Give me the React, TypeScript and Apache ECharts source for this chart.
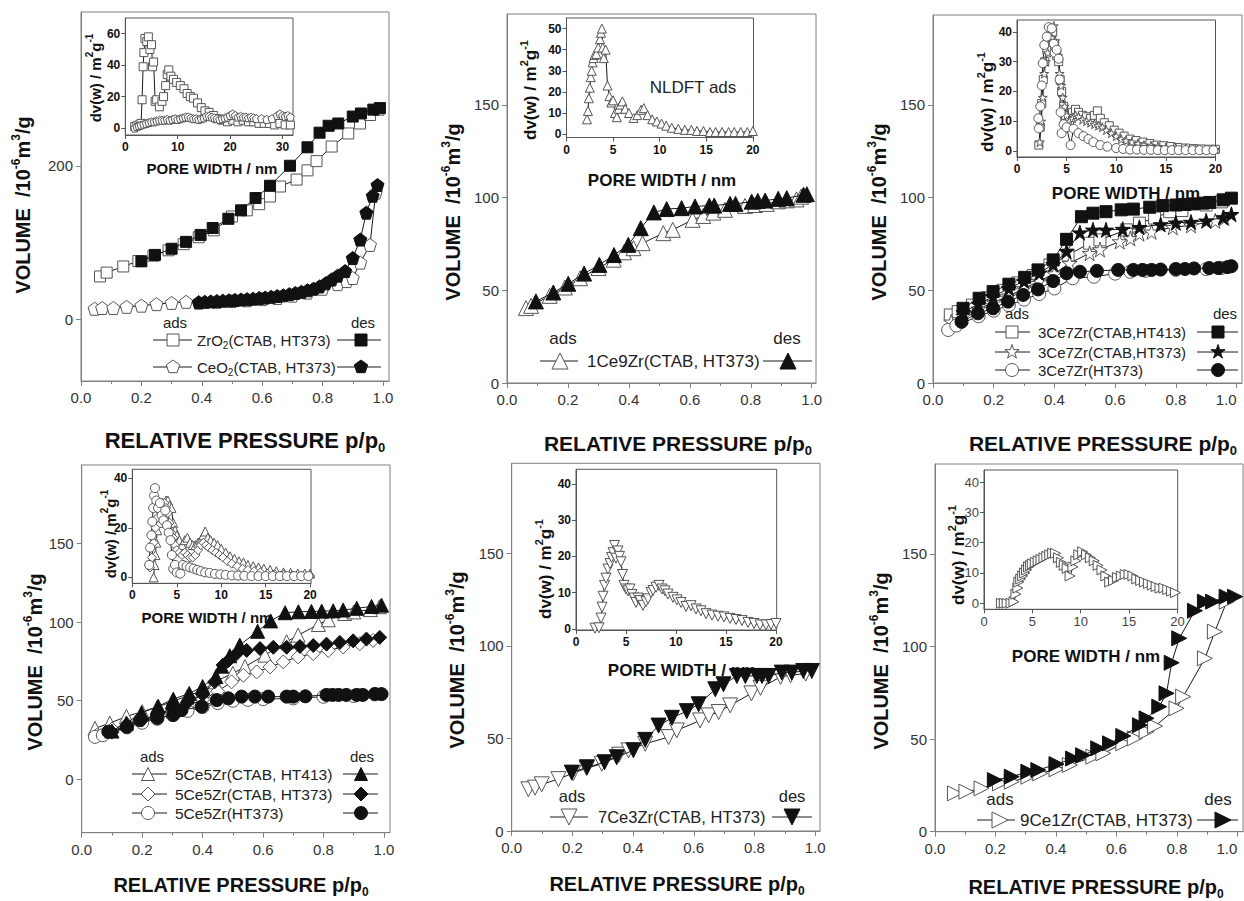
import React, { useEffect, useRef } from 'react';
import * as echarts from 'echarts';

type Pt = [number, number];

// ---------------- DATA ----------------
// Panel 1 : ZrO2 / CeO2
const zro2Ads: Pt[] = [[0.063,56],[0.085,61],[0.14,69],[0.19,76],[0.24,83],[0.29,90],[0.34,98],[0.39,107],[0.44,116],[0.5,134],[0.549,142],[0.59,150],[0.626,160],[0.659,173],[0.714,182],[0.75,194],[0.78,206],[0.83,225],[0.885,242],[0.924,255],[0.957,266],[0.985,273]];
const zro2Des: Pt[] = [[0.2,75.7],[0.245,84],[0.3,92],[0.348,101],[0.396,110],[0.436,119],[0.488,131],[0.53,142],[0.578,158],[0.626,174],[0.692,200],[0.75,224],[0.79,243],[0.82,252],[0.852,255],[0.9,264],[0.927,268],[0.968,273],[0.99,275]];
const ceo2Ads: Pt[] = [[0.045,14],[0.07,15],[0.107,15],[0.151,16.5],[0.2,18],[0.25,20],[0.3,21.6],[0.348,23],[0.39,22],[0.45,23],[0.5,24],[0.55,25],[0.6,26.5],[0.65,28],[0.7,31],[0.75,35],[0.8,40],[0.85,46],[0.88,50],[0.9,54],[0.925,74],[0.957,97],[0.976,165]];
const ceo2Des: Pt[] = [[0.39,22.5],[0.41,23],[0.43,23.5],[0.45,24],[0.47,24.5],[0.49,25],[0.51,25.5],[0.53,26],[0.55,26.5],[0.57,27],[0.59,28],[0.61,28.5],[0.63,29.5],[0.65,30.5],[0.67,31.5],[0.69,33],[0.71,34.5],[0.73,36],[0.75,38],[0.77,40],[0.79,43],[0.81,47],[0.83,52],[0.85,57],[0.875,63],[0.9,80],[0.925,104],[0.945,139],[0.966,161],[0.982,175]];
const zro2Psd: Pt[] = [[1.8,1],[2.2,1.5],[2.6,2],[3.0,3],[3.2,18],[3.4,39],[3.55,48],[3.75,57],[4.1,55],[4.4,58],[4.7,50],[5.0,53],[5.2,39],[5.4,42],[5.7,17],[6.0,18],[6.5,13.5],[7.0,17],[7.3,20],[7.7,27],[8.0,34],[8.3,37],[8.7,33],[9.2,31],[9.8,29],[10.5,27],[11.2,25],[11.8,22],[12.4,20],[13.0,19],[13.8,16],[14.5,13],[15.2,11],[16.0,10],[16.8,8],[17.5,6],[18.5,5],[19.5,4],[20.5,5],[21.5,4],[22.5,5],[23.5,4],[24.5,4],[25.5,3],[26.5,3],[27.5,3],[28.5,2],[29.5,3],[30.5,2],[31.5,2]];
const ceo2Psd: Pt[] = [[1.8,0],[2.2,1],[2.6,1.5],[3.0,2],[3.5,2.5],[4.0,3],[4.5,3.5],[5.0,4],[5.5,4],[6.0,4.5],[6.5,5],[7.0,5],[7.5,5],[8.0,5.5],[8.5,5],[9.0,5.5],[9.5,6],[10,5.5],[10.5,6],[11,6.5],[11.5,7],[12,7],[12.5,6.5],[13,6],[13.5,6],[14,5.5],[14.5,6],[15,6.5],[15.5,7.5],[16,7.5],[16.5,7],[17,6.5],[17.5,6],[18,5.5],[18.5,6],[19,6.5],[19.5,7],[20,8],[20.5,9],[21,8],[21.5,7],[22,7.5],[22.5,7],[23,7],[23.5,6.5],[24,7],[24.5,6.5],[25,6],[26,6],[27,5.5],[28,6],[29,8],[29.5,9],[30,8],[30.5,7.5],[31,8],[31.5,7]];

// Panel 2 : 1Ce9Zr
const ce1Ads: Pt[] = [[0.062,40.4],[0.079,41.6],[0.14,47],[0.19,51.5],[0.24,56.5],[0.3,62],[0.35,66.5],[0.384,70.5],[0.415,72.7],[0.445,75.4],[0.513,80.8],[0.544,82.6],[0.609,88],[0.644,90.1],[0.677,91.9],[0.715,93.4],[0.781,95.5],[0.814,96],[0.852,96.6],[0.89,98],[0.918,98.5],[0.95,99],[0.965,100.5]];
const ce1Des: Pt[] = [[0.095,44],[0.152,48.8],[0.201,53.5],[0.253,59],[0.303,63.7],[0.351,69],[0.398,74.5],[0.439,83.5],[0.482,92],[0.524,93.8],[0.573,94.3],[0.617,95.2],[0.664,95.7],[0.68,95.7],[0.732,96.6],[0.75,96.6],[0.803,97.8],[0.823,98.2],[0.847,98.4],[0.89,99.3],[0.918,99.7],[0.973,101.5],[0.984,101.8]];
const ce1Psd: Pt[] = [[2.2,7],[2.3,11],[2.4,17],[2.5,22],[2.6,27],[2.7,30],[2.8,34],[2.9,36],[3.0,37.5],[3.2,38],[3.4,41],[3.6,45],[3.7,48],[3.8,50],[3.9,41],[4.0,36],[4.2,40],[4.4,23],[4.6,18],[4.8,15],[5.0,16],[5.2,10],[5.4,8],[5.6,12],[5.8,14],[6.0,15.5],[6.3,12],[6.7,10],[7.2,7.6],[7.6,9],[8.0,11.5],[8.3,12.3],[8.7,9],[9.2,7],[9.7,6],[10.2,5],[10.7,4],[11.3,3],[12,2.5],[12.7,2],[13.4,2],[14,1.5],[14.7,1.5],[15.4,1],[16,1],[16.7,1],[17.4,1],[18,1],[18.7,1],[19.4,1],[20,1.5]];

// Panel 3 : 3Ce7Zr
const c3qAds: Pt[] = [[0.057,36.7],[0.083,38.5],[0.13,42],[0.18,46],[0.23,50],[0.28,54],[0.33,58],[0.385,63.7],[0.445,69],[0.516,75.4],[0.55,77.2],[0.637,82.6],[0.68,86.2],[0.73,89],[0.78,92.4],[0.82,93],[0.9,96],[0.95,97.7]];
const c3qDes: Pt[] = [[0.099,40.3],[0.152,45.7],[0.198,49.3],[0.25,53.3],[0.302,57],[0.346,61],[0.396,66.4],[0.44,77.5],[0.489,89.7],[0.527,91.6],[0.57,92.4],[0.62,93.4],[0.66,93.8],[0.714,94.8],[0.757,95.7],[0.8,96],[0.83,96.3],[0.857,96.6],[0.89,97],[0.912,97.4],[0.956,98.8],[0.983,99.7]];
const c3sAds: Pt[] = [[0.06,33],[0.1,36],[0.15,40],[0.2,43.5],[0.25,47],[0.3,51],[0.35,55],[0.4,59],[0.45,64.6],[0.516,70],[0.55,72],[0.615,76.3],[0.65,78],[0.68,80.5],[0.72,81.5],[0.79,84],[0.85,85],[0.93,87.5],[0.96,89]];
const c3sDes: Pt[] = [[0.1,38],[0.15,42.6],[0.198,46.5],[0.25,51],[0.3,55],[0.35,59.2],[0.396,64],[0.44,71],[0.484,81.1],[0.527,82.6],[0.57,82.6],[0.625,83],[0.68,84],[0.75,85.5],[0.8,86.4],[0.85,86.8],[0.9,87.5],[0.956,89.3],[0.983,91]];
const c3cAds: Pt[] = [[0.05,28.6],[0.077,31],[0.15,36],[0.2,39],[0.25,42],[0.3,45],[0.35,48],[0.4,51],[0.46,56.5],[0.53,57.3],[0.6,59],[0.65,60],[0.7,60.5],[0.8,61],[0.9,61.5],[0.95,62]];
const c3cDes: Pt[] = [[0.094,33],[0.148,37.6],[0.198,40.3],[0.247,43.9],[0.297,47.5],[0.346,50.5],[0.396,55],[0.44,59.2],[0.484,60],[0.54,60.5],[0.61,61],[0.66,61],[0.69,61],[0.72,61],[0.75,61.2],[0.8,61.5],[0.83,61.5],[0.86,61.8],[0.91,62],[0.94,62],[0.97,62.5],[0.983,63]];
const c3qPsd: Pt[] = [[2.2,2],[2.35,8],[2.5,16],[2.65,24],[2.8,30],[3.0,34],[3.2,38],[3.4,39],[3.6,40],[3.8,36],[4.0,32],[4.2,30],[4.35,24],[4.5,20],[4.7,15],[4.9,12],[5.1,9],[5.3,10],[5.6,13],[5.9,14],[6.2,13],[6.6,12],[7.0,11.5],[7.4,11],[7.8,12],[8.1,13.5],[8.4,11],[8.8,9.5],[9.3,8.5],[9.8,7],[10.3,6],[10.8,5],[11.4,4],[12,3.5],[12.7,3],[13.4,2.5],[14.1,2],[14.8,1.8],[15.5,1.5],[16.2,1.2],[17,1],[17.8,0.8],[18.6,0.7],[19.4,0.6],[20,0.6]];
const c3sPsd: Pt[] = [[2.3,3],[2.45,10],[2.6,18],[2.75,26],[2.9,30],[3.1,33],[3.3,36],[3.5,38],[3.7,42],[3.85,37],[4.0,33],[4.15,32],[4.3,26],[4.45,22],[4.6,18],[4.8,15],[5.0,12],[5.3,10],[5.6,11],[5.9,12],[6.2,11.5],[6.6,10.5],[7.0,10],[7.4,9.5],[7.8,9],[8.2,8.5],[8.6,8],[9.0,7],[9.5,6],[10,5],[10.5,4],[11,3.5],[11.6,3],[12.2,2.5],[12.8,2],[13.5,1.8],[14.2,1.5],[15,1.2],[16,1],[17,0.8],[18,0.6],[19,0.5],[20,0.5]];
const c3cPsd: Pt[] = [[2.15,11],[2.2,7.6],[2.35,15],[2.5,22],[2.6,29.5],[2.75,35.6],[3.0,38.4],[3.2,41.6],[3.5,41.2],[3.7,36],[3.8,33],[4.0,34],[4.2,31],[4.3,24],[4.4,13],[4.5,6],[4.7,9],[5.0,8],[5.4,2],[5.7,7.5],[6.2,6],[6.7,5],[7.2,4],[7.7,3],[8.4,2],[9.1,1.5],[10,1],[10.7,0.7],[11.4,0.5],[12.1,0.5],[12.8,0.4],[13.5,0.4],[14.2,0.3],[14.9,0.3],[15.6,0.3],[16.3,0.3],[17,0.3],[17.7,0.3],[18.4,0.3],[19.1,0.3],[19.8,0.3]];

// Panel 4 : 5Ce5Zr
const c5tAds: Pt[] = [[0.044,32.4],[0.093,35.7],[0.148,40],[0.2,43],[0.25,46],[0.3,49.5],[0.35,53],[0.4,56.5],[0.44,62],[0.5,67.4],[0.54,71.6],[0.606,79],[0.678,87.5],[0.716,91.7],[0.783,98.5],[0.816,101.5],[0.87,105.5],[0.9,106.5],[0.955,108],[0.985,109.8]];
const c5tDes: Pt[] = [[0.1,30.7],[0.148,35.8],[0.198,42.2],[0.253,46.5],[0.303,51],[0.356,54.6],[0.4,59],[0.444,65.3],[0.463,72],[0.49,78.6],[0.523,85.4],[0.582,94.2],[0.625,100.8],[0.673,106],[0.717,106.6],[0.76,106.8],[0.794,107],[0.832,107.2],[0.865,107.7],[0.91,108.8],[0.959,110],[0.992,110.8]];
const c5dAds: Pt[] = [[0.05,28],[0.1,32],[0.15,35],[0.2,38],[0.25,41],[0.3,44],[0.35,47],[0.4,50.5],[0.45,56],[0.496,62],[0.535,66.2],[0.579,68.3],[0.623,71.5],[0.667,74.7],[0.716,77.9],[0.766,80],[0.816,82],[0.865,84.2],[0.92,86.3],[0.964,88.4]];
const c5dDes: Pt[] = [[0.1,30],[0.15,34],[0.2,38],[0.25,41],[0.3,45],[0.35,49],[0.4,54],[0.44,62],[0.468,72.7],[0.485,75.5],[0.513,80],[0.546,82],[0.59,83.2],[0.634,84],[0.678,84],[0.722,84.5],[0.766,85.1],[0.81,86],[0.854,87.1],[0.898,88.1],[0.942,89.2],[0.986,90.3]];
const c5cAds: Pt[] = [[0.044,27],[0.07,28],[0.15,33],[0.2,36],[0.25,38.5],[0.3,41],[0.35,43.5],[0.4,46],[0.45,48.5],[0.5,50],[0.55,50.5],[0.6,51],[0.7,51.5],[0.8,52.5],[0.9,53],[0.97,54]];
const c5cDes: Pt[] = [[0.088,30.3],[0.149,33.4],[0.193,37.6],[0.25,39],[0.303,40.9],[0.33,44],[0.397,46.2],[0.447,50.4],[0.485,51.5],[0.529,52.6],[0.573,52.6],[0.617,52.6],[0.678,52.6],[0.7,52.6],[0.74,52.8],[0.81,53.7],[0.83,53.7],[0.85,53.7],[0.875,53.7],[0.91,53.7],[0.93,53.7],[0.97,54.3],[0.992,54.2]];
const c5tPsd: Pt[] = [[2.4,0],[2.5,5],[2.6,9],[2.7,14],[2.8,19],[3.0,22],[3.2,25],[3.4,27],[3.6,30],[3.8,31],[4.0,31],[4.2,29],[4.4,28],[4.6,22],[4.8,19],[5.0,17],[5.3,15],[5.6,13],[5.9,15],[6.2,16],[6.5,14],[6.8,13],[7.1,13],[7.4,14],[7.7,15],[8.0,17],[8.2,18.5],[8.5,16],[8.8,15],[9.2,14],[9.6,13],[10,11.5],[10.5,10],[11,8.5],[11.5,7.5],[12,6.5],[12.5,6],[13,5],[13.6,4.5],[14.2,4],[14.8,3.5],[15.5,3],[16.2,2.5],[17,2],[17.8,1.8],[18.6,1.5],[19.4,1.5],[20,1.5]];
const c5dPsd: Pt[] = [[2.0,4],[2.2,8],[2.4,14],[2.6,20],[2.8,24],[3.0,27],[3.2,29],[3.4,30],[3.6,30],[3.8,28],[4.0,26],[4.2,22],[4.4,18],[4.6,16],[4.8,13],[5.0,11],[5.3,10],[5.6,9],[5.9,10],[6.2,9],[6.5,8],[6.8,8],[7.1,9],[7.4,11],[7.7,13],[8.0,14],[8.3,13],[8.6,12],[9.0,11],[9.4,10],[9.8,9],[10.2,8],[10.7,6.5],[11.2,5.5],[11.8,4.5],[12.4,3.5],[13,3],[13.7,2.5],[14.4,2],[15.2,1.5],[16,1.2],[17,1],[18,0.8],[19,0.7],[20,0.6]];
const c5cPsd: Pt[] = [[1.9,5],[2.0,12],[2.15,17],[2.25,22.5],[2.35,28],[2.45,33],[2.55,36],[2.7,31],[2.9,28],[3.1,30],[3.3,25],[3.5,23],[3.7,27],[3.9,21],[4.1,18],[4.3,15],[4.45,9],[4.6,3.5],[4.8,5],[5.0,2],[5.4,1.5],[5.7,5],[6.1,4.5],[6.5,4],[6.9,3.5],[7.3,3],[7.7,2.5],[8.2,2],[8.7,1.8],[9.3,1.4],[9.9,1.2],[10.5,1],[11.2,0.8],[11.9,0.7],[12.6,0.6],[13.4,0.5],[14.2,0.5],[15,0.5],[15.8,0.5],[16.6,0.5],[17.4,0.5],[18.2,0.5],[19,0.5],[19.8,0.5]];

// Panel 5 : 7Ce3Zr
const ce7Ads: Pt[] = [[0.055,22.5],[0.077,23.4],[0.099,25.2],[0.154,28],[0.203,31.3],[0.247,33.9],[0.297,36.3],[0.354,41.2],[0.385,43.5],[0.44,47.1],[0.517,50.7],[0.544,54.3],[0.621,59.7],[0.649,62.4],[0.682,64.2],[0.72,67.8],[0.79,74.3],[0.82,77.3],[0.886,83.2],[0.919,84.1],[0.969,85]];
const ce7Des: Pt[] = [[0.198,31.5],[0.248,34.4],[0.306,37.1],[0.346,39.8],[0.401,43.6],[0.44,49.2],[0.484,56.9],[0.528,61.1],[0.577,64.7],[0.616,68.4],[0.671,76.5],[0.698,79.2],[0.742,83.7],[0.77,83.7],[0.808,83.7],[0.825,83.7],[0.847,83.7],[0.89,85.5],[0.923,85.5],[0.961,86.4],[0.989,86.4]];
const ce7Psd: Pt[] = [[1.9,0.2],[2.3,0.3],[2.5,3],[2.6,6],[2.7,9],[2.85,12],[3.0,14],[3.2,16.5],[3.4,18],[3.55,19.7],[3.7,21],[3.85,23],[4.0,19.5],[4.2,21.5],[4.35,20],[4.5,18.5],[4.65,15],[4.8,12],[5.0,11],[5.2,10.5],[5.4,11],[5.6,9.5],[5.8,8.5],[6.0,7.3],[6.2,8.5],[6.4,7.8],[6.7,6.5],[7.0,7.5],[7.2,8.3],[7.5,10],[7.7,10.6],[8.0,11.5],[8.3,12],[8.6,11],[8.9,10.5],[9.2,9.6],[9.7,8.7],[10.1,8],[10.5,7.3],[11.0,6.2],[11.5,6.4],[12.0,5.5],[12.5,5],[13.0,4.2],[13.6,3.8],[14.2,3.5],[14.8,3.3],[15.4,2.9],[16.0,2.6],[16.6,2.3],[17.2,1.8],[17.8,1.5],[18.4,1.1],[19.0,1.1],[19.5,1.2],[20.0,1.5]];

// Panel 6 : 9Ce1Zr
const ce9Ads: Pt[] = [[0.066,20.7],[0.104,21.6],[0.154,23.4],[0.215,26.1],[0.254,27],[0.309,29.7],[0.348,31.5],[0.402,33.7],[0.446,36],[0.524,40.5],[0.557,42.3],[0.623,47.7],[0.661,50.4],[0.7,54],[0.728,57],[0.799,66.6],[0.821,72.9],[0.893,93.6],[0.926,108],[0.965,124.2]];
const ce9Des: Pt[] = [[0.198,27.9],[0.254,29.7],[0.309,32.4],[0.342,33.3],[0.402,36.5],[0.457,39.5],[0.49,41.3],[0.54,45],[0.579,47.7],[0.623,51.7],[0.678,57.5],[0.7,61.2],[0.742,67.5],[0.766,74.7],[0.783,91.2],[0.808,104.4],[0.86,119.3],[0.893,124.2],[0.92,124.2],[0.965,126.9],[0.993,126.9]];
const ce9Psd: Pt[] = [[1.8,0],[2.1,0],[2.4,0],[2.8,0],[3.1,0.5],[3.3,3],[3.5,5],[3.6,7],[3.8,8],[4.0,9],[4.2,10],[4.4,11],[4.6,12],[4.8,12.5],[5.0,13],[5.3,13.5],[5.6,14],[5.9,14.5],[6.2,15],[6.5,15.5],[6.8,16],[7.1,16.5],[7.4,16.5],[7.7,15],[8.0,13.5],[8.3,12.5],[8.6,11.5],[8.9,9],[9.2,12],[9.5,14],[9.8,16],[10.2,17],[10.6,16],[11.0,15],[11.4,14],[11.8,12.5],[12.2,11],[12.6,9],[13.0,7],[13.4,7.5],[13.8,8.5],[14.2,9],[14.6,9.5],[15.0,9.5],[15.4,9],[15.8,8],[16.2,7.5],[16.6,7],[17.0,6.5],[17.4,6],[17.8,5.5],[18.2,5],[18.6,5],[19.0,4.5],[19.4,4],[19.8,3.5]];

// Tick values
const mainXTicks = [0, 0.2, 0.4, 0.6, 0.8, 1.0];
const mainXMinor = [0.1, 0.3, 0.5, 0.7, 0.9];
const mainYTicksP1 = [0, 200];
const mainYTicks = [0, 50, 100, 150];
const insetXTicksP1 = [0, 10, 20, 30];
const insetXTicks = [0, 5, 10, 15, 20];
const insetYTicksP1 = [0, 20, 40, 60];
const insetYTicksP2 = [0, 10, 20, 30, 40, 50];
const insetYTicks40 = [0, 10, 20, 30, 40];
const insetYTicksP4 = [0, 20, 40];

// ---------------- STYLE / LAYOUT ----------------
const FONT = '"Liberation Sans", Arial, Helvetica, sans-serif';
const OPEN_STROKE = '#555';
const DARK = '#111';
const LINE = '#1a1a1a';

const SYM: Record<string, string> = {
  square: 'rect',
  tri: 'triangle',
  down: 'path://M0,0L20,0L10,17.3Z',
  right: 'path://M0,0L17.3,10L0,20Z',
  diamond: 'diamond',
  circle: 'circle',
  pent: 'path://M10,0L19.51,6.91L15.88,18.09L4.12,18.09L0.49,6.91Z',
  star: 'path://M10,0L12.245,6.91L19.511,6.91L13.633,11.18L15.878,18.09L10,13.82L4.122,18.09L6.367,11.18L0.489,6.91L7.755,6.91Z',
};

const POLY: Record<string, number[][]> = {
  tri: [[0, -1], [1, 1], [-1, 1]],
  down: [[-1, -1], [1, -1], [0, 1]],
  right: [[-1, -1], [1, 0], [-1, 1]],
  diamond: [[0, -1], [1, 0], [0, 1], [-1, 0]],
  pent: [[0, -1], [0.951, -0.309], [0.588, 0.809], [-0.588, 0.809], [-0.951, -0.309]],
  star: [[0, -1], [0.2245, -0.309], [0.9511, -0.309], [0.3633, 0.118], [0.5878, 0.809], [0, 0.382], [-0.5878, 0.809], [-0.3633, 0.118], [-0.9511, -0.309], [-0.2245, -0.309]],
};

interface Box { left: number; top: number; width: number; height: number; xMax: number; yMin: number; yMax: number; xTicks: number[]; yTicks: number[]; }

const panels: { main: Box; inset: Box; insetBold: boolean; edgeRight?: boolean }[] = [
  { main: { left: 81, top: 12, width: 308, height: 369, xMax: 1.02, yMin: -80, yMax: 400, xTicks: mainXTicks, yTicks: mainYTicksP1 },
    inset: { left: 125.3, top: 18, width: 167.7, height: 117, xMax: 32, yMin: -4.4, yMax: 70, xTicks: insetXTicksP1, yTicks: insetYTicksP1 }, insetBold: true },
  { main: { left: 507, top: 14, width: 309, height: 369, xMax: 1.014, yMin: 0, yMax: 199, xTicks: mainXTicks, yTicks: mainYTicks },
    inset: { left: 566.5, top: 18, width: 187, height: 119.5, xMax: 20.07, yMin: -1.6, yMax: 55, xTicks: insetXTicks, yTicks: insetYTicksP2 }, insetBold: true },
  { main: { left: 933, top: 15, width: 309, height: 368, xMax: 1.018, yMin: 0, yMax: 198.5, xTicks: mainXTicks, yTicks: mainYTicks },
    inset: { left: 1017, top: 20, width: 198.5, height: 137, xMax: 20.01, yMin: -2, yMax: 44, xTicks: insetXTicks, yTicks: insetYTicks40 }, insetBold: true, edgeRight: true },
  { main: { left: 81.7, top: 465, width: 308.3, height: 367.7, xMax: 1.02, yMin: -34, yMax: 200, xTicks: mainXTicks, yTicks: mainYTicks },
    inset: { left: 132.3, top: 469.3, width: 178.7, height: 114, xMax: 20.1, yMin: -2.4, yMax: 43.6, xTicks: insetXTicks, yTicks: insetYTicksP4 }, insetBold: true },
  { main: { left: 511.7, top: 463.3, width: 308.3, height: 367.7, xMax: 1.016, yMin: 0, yMax: 198.5, xTicks: mainXTicks, yTicks: mainYTicks },
    inset: { left: 576, top: 469.3, width: 200.7, height: 160.7, xMax: 20.07, yMin: -0.3, yMax: 44, xTicks: insetXTicks, yTicks: insetYTicks40 }, insetBold: true },
  { main: { left: 935, top: 464, width: 308, height: 367.7, xMax: 1.019, yMin: 0, yMax: 198.5, xTicks: mainXTicks, yTicks: mainYTicks },
    inset: { left: 984, top: 470, width: 193.7, height: 139.3, xMax: 20.03, yMin: -2, yMax: 44, xTicks: insetXTicks, yTicks: insetYTicks40 }, insetBold: false, edgeRight: true },
];

function ser(idx: number, data: Pt[], shape: string, size: number, filled: boolean) {
  return {
    type: 'line', xAxisIndex: idx, yAxisIndex: idx, data,
    symbol: SYM[shape], symbolSize: size, showSymbol: true, showAllSymbol: true,
    lineStyle: { color: LINE, width: 1 },
    itemStyle: { color: filled ? DARK : '#fff', borderColor: filled ? DARK : OPEN_STROKE, borderWidth: 1 },
    emphasis: { disabled: true }, silent: true, z: filled ? 4 : 3,
  };
}

function buildAxes() {
  const grid: any[] = [];
  const xAxis: any[] = [];
  const yAxis: any[] = [];
  panels.forEach((p) => {
    [p.main, p.inset].forEach((b, k) => {
      const isMain = k === 0;
      const gi = grid.length;
      const axisCol = isMain ? '#808080' : '#555';
      grid.push({ left: b.left, top: b.top, width: b.width, height: b.height, show: true, borderColor: axisCol, borderWidth: 1, backgroundColor: isMain ? 'transparent' : '#fff', containLabel: false, outerBoundsMode: 'none' });
      const lblMain = { color: '#333', fontSize: 15, fontFamily: FONT };
      const lblInset = p.insetBold ? { color: '#111', fontSize: 12, fontWeight: 'bold', fontFamily: FONT } : { color: '#444', fontSize: 13, fontFamily: FONT };
      const lbl = isMain ? lblMain : lblInset;
      const xl: any = { ...lbl, margin: isMain ? 9 : 6, customValues: b.xTicks, formatter: (v: number) => (isMain ? v.toFixed(1) : String(Math.round(v))) };
      if (isMain && p.edgeRight) xl.alignMaxLabel = 'right';
      xAxis.push({
        type: 'value', gridIndex: gi, min: 0, max: b.xMax,
        axisLine: { show: true, onZero: false, lineStyle: { color: axisCol } },
        axisTick: { show: true, inside: false, length: isMain ? 5 : 4, customValues: b.xTicks, lineStyle: { color: axisCol } },
        axisLabel: xl,
        splitLine: { show: false },
      });
      yAxis.push({
        type: 'value', gridIndex: gi, min: b.yMin, max: b.yMax,
        axisLine: { show: true, onZero: false, lineStyle: { color: axisCol } },
        axisTick: { show: true, inside: false, length: isMain ? 5 : 4, customValues: b.yTicks, lineStyle: { color: axisCol } },
        axisLabel: { ...lbl, margin: isMain ? 8 : 5, customValues: b.yTicks, formatter: (v: number) => String(Math.round(v)) },
        splitLine: { show: false },
      });
    });
  });
  // minor ticks on main x axes
  panels.forEach((p, i) => {
    xAxis.push({
      type: 'value', gridIndex: i * 2, min: 0, max: p.main.xMax, position: 'bottom',
      axisLine: { show: false, onZero: false },
      axisTick: { show: true, inside: false, length: 3, customValues: mainXMinor, lineStyle: { color: '#808080' } },
      axisLabel: { show: false, customValues: mainXMinor },
      splitLine: { show: false },
    });
  });
  return { grid, xAxis, yAxis };
}

// ---- graphic helpers ----
const rs = (size: number, weight: string = 'bold', color: string = '#111') => ({ fontSize: size, fontWeight: weight, fontFamily: FONT, fill: color, color });

function yTitle(x: number, y: number, size: number) {
  return {
    type: 'text', x, y, rotation: Math.PI / 2, z: 60,
    style: {
      text: '{a|VOLUME  /10}{s|-6}{a|m}{s|3}{a|/g}', align: 'center', verticalAlign: 'middle',
      rich: { a: { ...rs(size), lineHeight: size + 6 }, s: { ...rs(Math.round(size * 0.6)), verticalAlign: 'top', lineHeight: Math.round(size * 0.65) } },
    },
  };
}
function xTitle(x: number, y: number, size: number) {
  return {
    type: 'text', x, y, z: 60,
    style: {
      text: '{a|RELATIVE PRESSURE p/p}{b|0}', align: 'center', verticalAlign: 'middle',
      rich: { a: { ...rs(size), lineHeight: size + 6 }, b: { ...rs(Math.round(size * 0.6)), verticalAlign: 'bottom', lineHeight: Math.round(size * 0.65) } },
    },
  };
}
function insetYTitle(x: number, y: number, size: number) {
  return {
    type: 'text', x, y, rotation: Math.PI / 2, z: 60,
    style: {
      text: '{a|dv(w) / m}{s|2}{a|g}{s|-1}', align: 'center', verticalAlign: 'middle',
      rich: { a: { ...rs(size), lineHeight: size + 6 }, s: { ...rs(Math.round(size * 0.65)), verticalAlign: 'top', lineHeight: Math.round(size * 0.7) } },
    },
  };
}
function plainText(x: number, y: number, str: string, size: number, weight = 'normal', align = 'center', color = '#222') {
  return { type: 'text', x, y, z: 60, style: { text: str, fontSize: size, fontWeight: weight, fontFamily: FONT, fill: color, align, verticalAlign: 'middle' } };
}
function marker(shape: string, cx: number, cy: number, size: number, filled: boolean) {
  const style = { fill: filled ? DARK : '#fff', stroke: filled ? DARK : OPEN_STROKE, lineWidth: 1 };
  const h = size / 2;
  if (shape === 'square') return { type: 'rect', z: 62, shape: { x: cx - h, y: cy - h, width: size, height: size }, style };
  if (shape === 'circle') return { type: 'circle', z: 62, shape: { cx, cy, r: h }, style };
  return { type: 'polygon', z: 62, shape: { points: POLY[shape].map(([a, b]) => [cx + a * h, cy + b * h]) }, style };
}
function seg(x1: number, x2: number, y: number) {
  return { type: 'line', z: 61, shape: { x1, y1: y, x2, y2: y }, style: { stroke: LINE, lineWidth: 1 } };
}
function legendRow(y: number, l1: number, l2: number, lm: number, tx: number, r1: number, r2: number, rm: number, shape: string, msize: number, label: any, fsize: number) {
  const els: any[] = [seg(l1, l2, y), marker(shape, lm, y, msize, false), seg(r1, r2, y), marker(shape, rm, y, msize, true)];
  if (typeof label === 'string') els.push(plainText(tx, y, label, fsize, 'normal', 'left'));
  else els.push({ type: 'text', x: tx, y, z: 60, style: { ...label, align: 'left', verticalAlign: 'middle' } });
  return els;
}

function buildGraphics() {
  const g: any[] = [];
  // main axis titles
  g.push(yTitle(23, 205, 20), yTitle(453, 212, 20), yTitle(879, 212, 20));
  g.push(yTitle(35, 662, 20), yTitle(457, 660, 20), yTitle(881, 661, 20));
  g.push(xTitle(245, 440, 22), xTitle(678, 443, 21), xTitle(1103, 443, 21));
  g.push(xTitle(241, 885, 20), xTitle(677, 884, 20), xTitle(1096, 887, 20));
  // inset titles
  g.push(insetYTitle(95, 78, 15), insetYTitle(530, 90, 17), insetYTitle(987, 102, 17));
  g.push(insetYTitle(110, 534, 15), insetYTitle(545, 569, 17), insetYTitle(958, 555, 17));
  g.push(plainText(212, 168, 'PORE WIDTH / nm', 15, 'bold', 'center', '#111'));
  g.push(plainText(662, 180, 'PORE WIDTH / nm', 17, 'bold', 'center', '#111'));
  g.push(plainText(1126, 193, 'PORE WIDTH / nm', 17, 'bold', 'center', '#111'));
  g.push(plainText(207, 617, 'PORE WIDTH / nm', 15, 'bold', 'center', '#111'));
  g.push(plainText(682, 670, 'PORE WIDTH / nm', 17, 'bold', 'center', '#111'));
  g.push(plainText(1086, 656, 'PORE WIDTH / nm', 17, 'bold', 'center', '#111'));
  g.push(plainText(693, 87, 'NLDFT ads', 17, 'normal', 'center', '#222'));

  // legends
  const sub = (a: string, s: string, b: string, size: number) => ({
    text: `{a|${a}}{b|${s}}{a|${b}}`,
    rich: { a: { ...rs(size, 'normal', '#222'), lineHeight: size + 6 }, b: { ...rs(Math.round(size * 0.65), 'normal', '#222'), verticalAlign: 'bottom', lineHeight: Math.round(size * 0.7) } },
  });
  // P1
  g.push(plainText(175, 322, 'ads', 15), plainText(363, 322, 'des', 15));
  g.push(...legendRow(340, 153, 192, 173, 197, 337, 381, 361, 'square', 12, sub('ZrO', '2', '(CTAB, HT373)', 15), 15));
  g.push(...legendRow(367, 153, 192, 173, 197, 337, 381, 361, 'pent', 14, sub('CeO', '2', '(CTAB, HT373)', 15), 15));
  // P2
  g.push(plainText(563, 338, 'ads', 17), plainText(787, 338, 'des', 17));
  g.push(...legendRow(361, 540, 578, 560, 587, 763, 812, 788, 'tri', 16, '1Ce9Zr(CTAB, HT373)', 17));
  // P3
  g.push(plainText(1017, 313, 'ads', 15), plainText(1225, 313, 'des', 15));
  g.push(...legendRow(332, 995, 1030, 1012, 1038, 1197, 1238, 1218, 'square', 12, '3Ce7Zr(CTAB,HT413)', 15));
  g.push(...legendRow(352, 995, 1030, 1012, 1038, 1197, 1238, 1218, 'star', 15, '3Ce7Zr(CTAB,HT373)', 15));
  g.push(...legendRow(370, 995, 1030, 1012, 1038, 1197, 1238, 1218, 'circle', 13, '3Ce7Zr(HT373)', 15));
  // P4
  g.push(plainText(152, 756, 'ads', 15), plainText(362, 756, 'des', 15));
  g.push(...legendRow(774, 132, 167, 148, 175, 343, 378, 361, 'tri', 13, '5Ce5Zr(CTAB, HT413)', 15.5));
  g.push(...legendRow(794, 132, 167, 148, 175, 343, 378, 361, 'diamond', 14, '5Ce5Zr(CTAB, HT373)', 15.5));
  g.push(...legendRow(813, 132, 167, 148, 175, 343, 378, 361, 'circle', 13, '5Ce5Zr(HT373)', 15.5));
  // P5
  g.push(plainText(572, 796, 'ads', 16.5), plainText(792, 796, 'des', 16.5));
  g.push(...legendRow(817, 550, 588, 569, 598, 772, 812, 792, 'down', 16, '7Ce3Zr(CTAB, HT373)', 16.5));
  // P6
  g.push(plainText(1000, 799, 'ads', 17), plainText(1218, 799, 'des', 17));
  g.push(...legendRow(820, 977, 1015, 1000, 1020, 1197, 1238, 1223, 'right', 16, '9Ce1Zr(CTAB, HT373)', 17));
  return g;
}

function buildSeries() {
  return [
    // Panel 1
    ser(0, zro2Ads, 'square', 11, false), ser(0, ceo2Ads, 'pent', 13, false),
    ser(0, zro2Des, 'square', 11, true), ser(0, ceo2Des, 'pent', 13, true),
    ser(1, zro2Psd, 'square', 8, false), ser(1, ceo2Psd, 'pent', 8, false),
    // Panel 2
    ser(2, ce1Ads, 'tri', 15, false), ser(2, ce1Des, 'tri', 15, true),
    ser(3, ce1Psd, 'tri', 9, false),
    // Panel 3
    ser(4, c3qAds, 'square', 12, false), ser(4, c3sAds, 'star', 15, false), ser(4, c3cAds, 'circle', 13, false),
    ser(4, c3qDes, 'square', 12, true), ser(4, c3sDes, 'star', 15, true), ser(4, c3cDes, 'circle', 13, true),
    ser(5, c3qPsd, 'square', 8, false), ser(5, c3sPsd, 'star', 9, false), ser(5, c3cPsd, 'circle', 9, false),
    // Panel 4
    ser(6, c5tAds, 'tri', 14, false), ser(6, c5dAds, 'diamond', 14, false), ser(6, c5cAds, 'circle', 13, false),
    ser(6, c5tDes, 'tri', 14, true), ser(6, c5dDes, 'diamond', 14, true), ser(6, c5cDes, 'circle', 13, true),
    ser(7, c5tPsd, 'tri', 9, false), ser(7, c5dPsd, 'diamond', 9, false), ser(7, c5cPsd, 'circle', 9, false),
    // Panel 5
    ser(8, ce7Ads, 'down', 15, false), ser(8, ce7Des, 'down', 15, true),
    ser(9, ce7Psd, 'down', 10, false),
    // Panel 6
    ser(10, ce9Ads, 'right', 15, false), ser(10, ce9Des, 'right', 15, true),
    ser(11, ce9Psd, 'right', 10, false),
  ];
}

export default function App() {
  const ref = useRef<HTMLDivElement>(null);
  useEffect(() => {
    if (!ref.current) return;
    const chart = echarts.init(ref.current, undefined, { renderer: 'svg' });
    const { grid, xAxis, yAxis } = buildAxes();
    chart.setOption({
      animation: false,
      backgroundColor: '#fff',
      textStyle: { fontFamily: FONT },
      grid, xAxis, yAxis,
      series: buildSeries(),
      graphic: { elements: buildGraphics() },
    } as any);
    return () => chart.dispose();
  }, []);
  return <div ref={ref} style={{ position: 'fixed', left: 0, top: 0, width: 1244, height: 901, background: '#fff' }} />;
}
